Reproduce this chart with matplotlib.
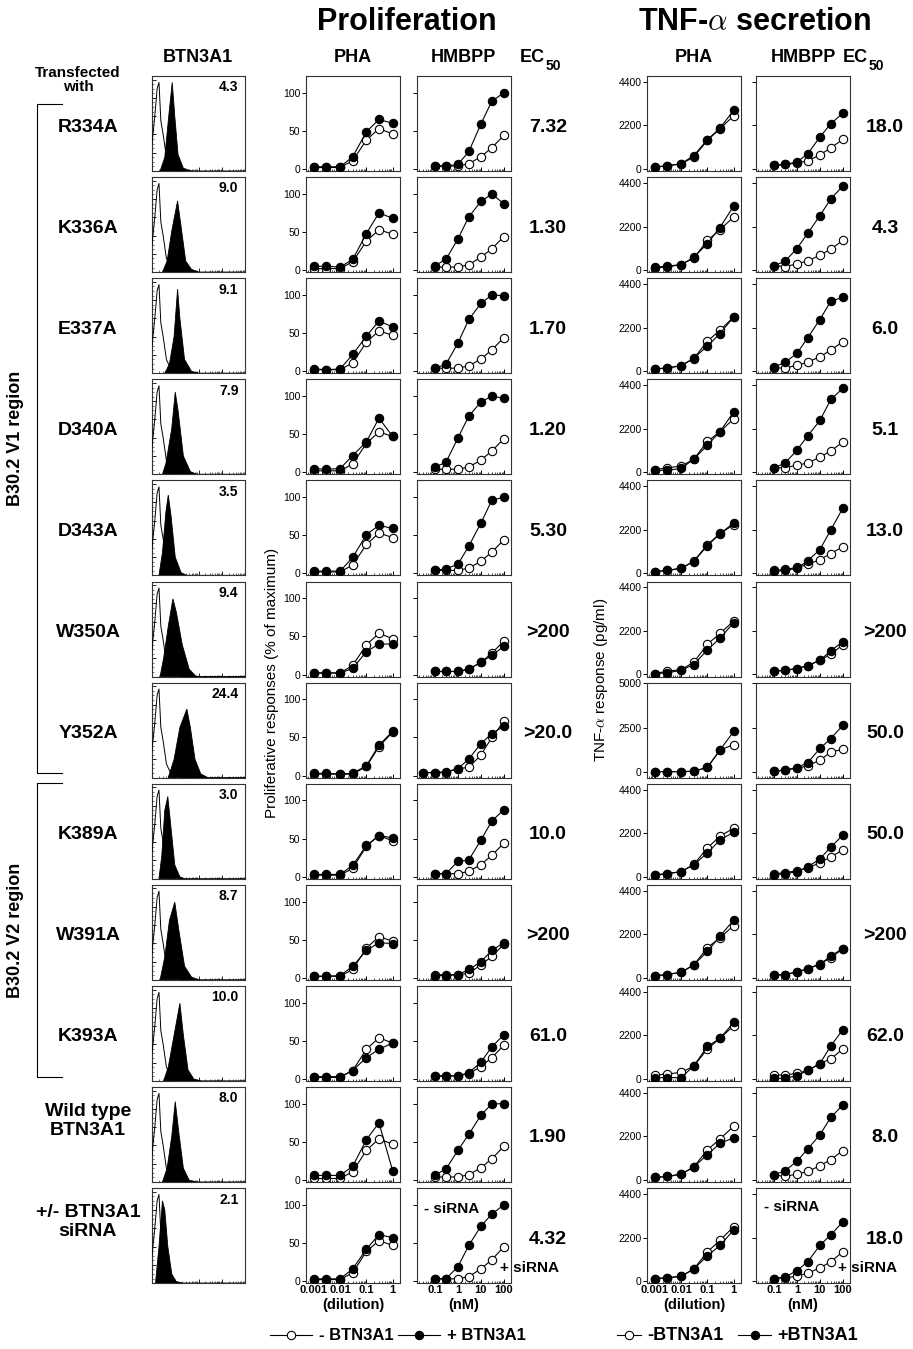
import numpy as np
import matplotlib
matplotlib.use("Agg")
import matplotlib.pyplot as plt
from matplotlib.ticker import LogLocator, NullFormatter, FixedLocator

plt.rcParams['font.family'] = ['Liberation Sans', 'DejaVu Sans']
plt.rcParams['mathtext.fontset'] = 'cm'

# ---------------- data ----------------
mutants = ["R334A", "K336A", "E337A", "D340A", "D343A", "W350A", "Y352A",
           "K389A", "W391A", "K393A", "Wild type\nBTN3A1", "+/- BTN3A1\nsiRNA"]
hist_mfi = ["4.3", "9.0", "9.1", "7.9", "3.5", "9.4", "24.4",
            "3.0", "8.7", "10.0", "8.0", "2.1"]
ec50_prolif = ["7.32", "1.30", "1.70", "1.20", "5.30", ">200", ">20.0",
               "10.0", ">200", "61.0", "1.90", "4.32"]
ec50_tnf = ["18.0", "4.3", "6.0", "5.1", "13.0", ">200", "50.0",
            "50.0", ">200", "62.0", "8.0", "18.0"]

pha_dose = [0.001, 0.003, 0.01, 0.03, 0.1, 0.3, 1]
hmbpp_dose = [0.1, 0.3, 1, 3, 10, 30, 100]
hmbpp_dose_long = [0.03, 0.1, 0.3, 1, 3, 10, 30, 100]   # Y352A proliferation

# proliferation (% of maximum), - BTN3A1 (open) / + BTN3A1 (filled)
prolif_pha_neg = [
    [2, 2, 2, 11, 38, 53, 46], [2, 2, 2, 11, 38, 53, 47], [2, 2, 2, 11, 38, 53, 47],
    [2, 2, 2, 11, 38, 53, 47], [2, 2, 2, 11, 38, 53, 47], [2, 2, 2, 12, 39, 54, 47],
    [2, 2, 2, 2, 12, 38, 57], [2, 2, 2, 11, 40, 54, 47], [2, 2, 2, 11, 39, 54, 48],
    [2, 2, 2, 11, 39, 54, 47], [2, 2, 2, 11, 39, 54, 47], [2, 2, 2, 11, 39, 53, 47]]
prolif_pha_pos = [
    [3, 3, 3, 16, 49, 65, 60], [5, 5, 4, 14, 48, 75, 68], [3, 2, 3, 22, 46, 66, 58],
    [5, 4, 5, 22, 40, 71, 47], [3, 3, 3, 21, 51, 63, 59], [2, 2, 2, 8, 30, 40, 40],
    [3, 3, 2, 3, 13, 40, 58], [3, 3, 3, 15, 41, 54, 51], [2, 2, 3, 15, 36, 46, 45],
    [3, 3, 3, 11, 28, 39, 47], [6, 6, 6, 18, 53, 75, 12], [3, 3, 3, 16, 42, 61, 57]]
prolif_hmbpp_neg = [
    [4, 4, 4, 7, 16, 28, 44], [4, 4, 4, 7, 17, 28, 44], [4, 4, 4, 7, 16, 28, 44],
    [4, 4, 4, 7, 16, 28, 44], [4, 4, 4, 7, 16, 28, 44], [4, 4, 4, 7, 16, 28, 44],
    [4, 4, 4, 9, 11, 27, 50, 71], [4, 4, 4, 7, 16, 28, 44], [4, 4, 4, 6, 17, 28, 44],
    [4, 4, 4, 7, 16, 28, 44], [4, 4, 4, 7, 16, 28, 44], [3, 3, 3, 6, 16, 28, 45]]
prolif_hmbpp_pos = [
    [4, 4, 6, 23, 59, 89, 100], [6, 14, 41, 70, 90, 100, 87], [4, 9, 37, 68, 89, 100, 99],
    [7, 13, 45, 74, 92, 100, 97], [4, 6, 12, 36, 66, 96, 100], [4, 4, 4, 7, 16, 25, 37],
    [4, 4, 5, 9, 22, 42, 55, 65], [4, 4, 20, 22, 48, 73, 88], [3, 3, 4, 11, 21, 36, 46],
    [4, 4, 4, 8, 22, 42, 58], [7, 14, 39, 60, 85, 100, 100], [3, 3, 19, 47, 72, 88, 100]]

# TNF-alpha (pg/ml)
tnf_pha_neg = [
    [100, 165, 260, 600, 1450, 2030, 2690], [115, 160, 280, 600, 1500, 2040, 2690],
    [115, 165, 280, 640, 1515, 2070, 2740], [130, 230, 310, 660, 1560, 2050, 2700],
    [90, 160, 260, 620, 1450, 2020, 2450], [50, 166, 250, 615, 1530, 2075, 2700],
    [37, 37, 37, 55, 276, 1250, 1560], [90, 160, 260, 620, 1450, 2050, 2450],
    [100, 165, 280, 640, 1525, 2020, 2640], [195, 250, 330, 640, 1510, 2050, 2690],
    [130, 180, 295, 655, 1525, 2070, 2720], [130, 165, 245, 605, 1480, 2060, 2750]]
tnf_pha_pos = [
    [100, 165, 264, 677, 1485, 2063, 2970], [150, 200, 280, 640, 1340, 2150, 3240],
    [115, 163, 277, 650, 1270, 1900, 2740], [100, 100, 195, 660, 1370, 2050, 3050],
    [80, 150, 250, 600, 1400, 2000, 2550], [50, 83, 216, 500, 1245, 1830, 2620],
    [37, 37, 37, 55, 276, 1250, 2300], [80, 150, 250, 600, 1200, 1850, 2250],
    [100, 165, 280, 655, 1330, 2100, 2920], [65, 65, 65, 655, 1640, 2050, 2850],
    [130, 180, 295, 655, 1280, 1850, 2130], [130, 165, 245, 605, 1280, 1800, 2580]]
tnf_hmbpp_neg = [
    [180, 230, 300, 410, 710, 1070, 1500], [230, 180, 310, 470, 750, 1060, 1500],
    [163, 163, 293, 456, 733, 1060, 1500], [230, 230, 360, 470, 765, 1075, 1530],
    [150, 200, 300, 450, 700, 1000, 1350], [166, 216, 300, 450, 715, 1030, 1500],
    [55, 130, 220, 370, 680, 1140, 1290], [150, 200, 300, 450, 700, 1000, 1350],
    [130, 165, 295, 460, 710, 1000, 1475], [195, 195, 280, 430, 770, 1015, 1510],
    [260, 180, 300, 430, 720, 1030, 1490], [130, 165, 245, 410, 660, 985, 1480]]
tnf_hmbpp_pos = [
    [180, 230, 350, 775, 1617, 2290, 2820], [230, 440, 1090, 1870, 2750, 3600, 4250],
    [212, 440, 900, 1700, 2610, 3540, 3730], [230, 455, 1120, 1850, 2620, 3680, 4250],
    [100, 150, 250, 650, 1200, 2200, 3300], [166, 216, 300, 450, 715, 1200, 1660],
    [55, 130, 260, 550, 1340, 1900, 2650], [100, 150, 250, 500, 900, 1500, 2100],
    [130, 165, 295, 460, 670, 1115, 1475], [30, 30, 165, 430, 770, 1670, 2490],
    [260, 460, 950, 1575, 2280, 3170, 3790], [130, 200, 530, 985, 1810, 2340, 3000]]
tnf_top = [4400] * 6 + [5000] + [4400] * 5

# flow histograms: outline vertices (log10 fluorescence, % of max count)
hist_open = [(0, 30), (0.12, 60), (0.22, 90), (0.3, 97), (0.38, 55), (0.48, 40),
             (0.62, 15), (0.8, 5), (1.0, 2), (1.3, 0)]
hist_filled = [
    [(0.35, 0), (0.55, 15), (0.72, 60), (0.87, 97), (0.98, 60), (1.12, 18), (1.35, 3), (1.7, 0)],
    [(0.45, 0), (0.65, 12), (0.85, 45), (1.1, 78), (1.25, 50), (1.45, 12), (1.7, 3), (2.0, 0)],
    [(0.55, 0), (0.75, 10), (0.95, 40), (1.1, 92), (1.2, 60), (1.4, 15), (1.7, 2), (2.0, 0)],
    [(0.45, 0), (0.6, 12), (0.85, 50), (1.0, 90), (1.12, 70), (1.35, 20), (1.65, 3), (1.9, 0)],
    [(0.3, 0), (0.45, 25), (0.6, 70), (0.7, 88), (0.82, 65), (1.0, 20), (1.25, 3), (1.5, 0)],
    [(0.35, 0), (0.5, 20), (0.7, 55), (0.9, 85), (1.05, 70), (1.3, 35), (1.6, 8), (1.9, 0)],
    [(0.7, 0), (0.95, 20), (1.2, 55), (1.5, 75), (1.65, 55), (1.85, 20), (2.1, 4), (2.4, 0)],
    [(0.3, 0), (0.42, 25), (0.55, 75), (0.68, 90), (0.8, 60), (0.98, 15), (1.2, 2), (1.4, 0)],
    [(0.35, 0), (0.55, 25), (0.75, 65), (0.98, 85), (1.15, 55), (1.4, 15), (1.7, 3), (2.0, 0)],
    [(0.5, 0), (0.7, 15), (0.95, 50), (1.2, 85), (1.35, 50), (1.55, 12), (1.8, 2), (2.1, 0)],
    [(0.45, 0), (0.65, 15), (0.85, 50), (1.0, 88), (1.15, 55), (1.35, 15), (1.6, 2), (1.9, 0)],
    [(0.15, 0), (0.3, 40), (0.45, 90), (0.55, 80), (0.68, 40), (0.85, 10), (1.05, 1), (1.3, 0)]]

# ---------------- layout ----------------
W, H = 913, 1349
fig = plt.figure(figsize=(W / 100, H / 100), dpi=100)

def px_axes(x, y, w, h):
    return fig.add_axes([x / W, 1 - (y + h) / H, w / W, h / H])

ROW0, PITCH, AH = 76, 101.1, 95
COL_HIST, COL_PP, COL_PH, COL_TP, COL_TH = 152, 306, 417, 647, 756
AW = 94
PHA_LIM = (0.0005, 1.9)
HMB_LIM = (0.0165, 205)

def style_dose_axis(ax, last, kind):
    ax.set_xscale('log')
    ax.set_xlim(*(PHA_LIM if kind == 'pha' else HMB_LIM))
    ax.xaxis.set_major_locator(LogLocator(base=10, numticks=10))
    ax.xaxis.set_minor_locator(LogLocator(base=10, subs=np.arange(2, 10), numticks=20))
    ax.xaxis.set_minor_formatter(NullFormatter())
    ax.tick_params(axis='x', which='major', direction='in', length=3, width=0.7)
    ax.tick_params(axis='x', which='minor', direction='in', length=1.5, width=0.5)
    ax.tick_params(axis='y', direction='out', length=3, width=0.7, labelsize=7.5, pad=1)
    if last:
        ticks = [0.001, 0.01, 0.1, 1] if kind == 'pha' else [0.1, 1, 10, 100]
        ax.xaxis.set_major_locator(FixedLocator(ticks))
        ax.set_xticklabels([f"{t:g}" for t in ticks], fontsize=8, fontweight='bold')
        ax.tick_params(axis='x', which='major', pad=1.5)
        ax.set_xlabel("(dilution)" if kind == 'pha' else "(nM)",
                      fontsize=10.5, fontweight='bold', labelpad=2)
    else:
        ax.set_xticklabels([])
    for s in ax.spines.values():
        s.set_linewidth(0.8)
        s.set_color('#333333')

def draw_pair(ax, dose_neg, neg, dose_pos, pos):
    ax.plot(dose_neg, neg, '-o', color='black', lw=0.8, ms=6,
            mfc='white', mec='black', mew=0.8, zorder=2)
    ax.plot(dose_pos, pos, '-o', color='black', lw=0.8, ms=6,
            mfc='black', mec='black', mew=0.8, zorder=3)

for i in range(len(mutants)):
    top = ROW0 + PITCH * i
    last = i == len(mutants) - 1

    # flow histogram
    ax = px_axes(COL_HIST, top, 93, AH)
    ox = [10 ** v[0] for v in hist_open] + [10 ** 4]
    oy = [v[1] for v in hist_open] + [0]
    fx = [10 ** v[0] for v in hist_filled[i]]
    fy = [v[1] for v in hist_filled[i]]
    ax.fill(fx, fy, color='black', lw=0.6, zorder=2)
    ax.plot(ox, oy, color='black', lw=0.7, zorder=3)
    ax.set_xscale('log')
    ax.set_xlim(1, 1e4)
    ax.set_ylim(0, 104)
    ax.xaxis.set_major_locator(LogLocator(base=10, numticks=10))
    ax.xaxis.set_minor_locator(LogLocator(base=10, subs=np.arange(2, 10), numticks=20))
    ax.xaxis.set_minor_formatter(NullFormatter())
    ax.set_xticklabels([])
    ax.set_yticks(np.arange(0, 101, 20))
    ax.set_yticks(np.arange(0, 101, 5), minor=True)
    ax.set_yticklabels([])
    ax.tick_params(which='major', direction='in', length=3, width=0.6)
    ax.tick_params(which='minor', direction='in', length=1.5, width=0.4)
    for s in ax.spines.values():
        s.set_linewidth(0.8)
        s.set_color('#333333')
    ax.text(0.93, 0.88, hist_mfi[i], transform=ax.transAxes, ha='right', va='center',
            fontsize=10, fontweight='bold')

    # proliferation
    ax = px_axes(COL_PP, top, AW, AH)
    draw_pair(ax, pha_dose, prolif_pha_neg[i], pha_dose, prolif_pha_pos[i])
    ax.set_ylim(-2.6, 122)
    ax.set_yticks([0, 50, 100])
    style_dose_axis(ax, last, 'pha')

    ax = px_axes(COL_PH, top, AW, AH)
    dn = hmbpp_dose_long if len(prolif_hmbpp_neg[i]) == 8 else hmbpp_dose
    dp = hmbpp_dose_long if len(prolif_hmbpp_pos[i]) == 8 else hmbpp_dose
    draw_pair(ax, dn, prolif_hmbpp_neg[i], dp, prolif_hmbpp_pos[i])
    ax.set_ylim(-2.6, 122)
    ax.set_yticks([0, 50, 100])
    ax.set_yticklabels([])
    style_dose_axis(ax, last, 'hmb')
    if last:
        ax.text(0.07, 0.78, "- siRNA", transform=ax.transAxes, fontsize=11,
                fontweight='bold', va='center')

    # TNF-alpha
    tt = tnf_top[i]
    ylo = -tt * 0.023 if tt == 4400 else -tt * 0.06
    yhi = tt * 1.068 if tt == 4400 else tt * 1.01
    ax = px_axes(COL_TP, top, AW, AH)
    draw_pair(ax, pha_dose, tnf_pha_neg[i], pha_dose, tnf_pha_pos[i])
    ax.set_ylim(ylo, yhi)
    ax.set_yticks([0, tt / 2, tt])
    ax.set_yticklabels(["0", f"{tt // 2}", f"{tt}"])
    style_dose_axis(ax, last, 'pha')

    ax = px_axes(COL_TH, top, AW, AH)
    draw_pair(ax, hmbpp_dose, tnf_hmbpp_neg[i], hmbpp_dose, tnf_hmbpp_pos[i])
    ax.set_ylim(ylo, yhi)
    ax.set_yticks([0, tt / 2, tt])
    ax.set_yticklabels([])
    style_dose_axis(ax, last, 'hmb')
    if last:
        ax.text(0.09, 0.8, "- siRNA", transform=ax.transAxes, fontsize=11,
                fontweight='bold', va='center')

# ---------------- overlay text ----------------
ov = fig.add_axes([0, 0, 1, 1])
ov.set_xlim(0, W)
ov.set_ylim(H, 0)
ov.axis('off')
ov.set_zorder(10)

bold = dict(fontweight='bold', ha='center', va='center')
ov.text(407, 22, "Proliferation", fontsize=22, **bold)
ov.text(755, 22, r"TNF-$\alpha$ secretion", fontsize=22, **bold)
ov.text(198, 57, "BTN3A1", fontsize=13, **bold)
ov.text(353, 57, "PHA", fontsize=13, **bold)
ov.text(463, 57, "HMBPP", fontsize=13, **bold)
ov.text(694, 57, "PHA", fontsize=13, **bold)
ov.text(803, 57, "HMBPP", fontsize=13, **bold)
for xe in (545, 868):
    ov.text(xe, 57, "EC", fontsize=13, fontweight='bold', ha='right', va='center')
    ov.text(xe + 1, 66, "50", fontsize=10, fontweight='bold', ha='left', va='center')
ov.text(78, 80, "Transfected\nwith", fontsize=11, linespacing=1.0, **bold)

for i in range(len(mutants)):
    top = ROW0 + PITCH * i
    yc = top + (34 if "\n" in mutants[i] else 51)
    ov.text(88, yc, mutants[i], fontsize=14, linespacing=1.1, **bold)
    ov.text(548, top + 51, ec50_prolif[i], fontsize=14, **bold)
    ov.text(885, top + 51, ec50_tnf[i], fontsize=14, **bold)

# brackets for the B30.2 regions
for y0, y1, yl, lab in [(104, 773, 438, "B30.2 V1 region"),
                        (783, 1077, 930, "B30.2 V2 region")]:
    ov.plot([62, 37, 37, 62], [y0, y0, y1, y1], color='black', lw=0.8)
    ov.text(16, yl, lab, rotation=90, fontsize=13, **bold)

ov.text(272, 683, "Proliferative responses (% of maximum)", rotation=90,
        fontsize=11, ha='center', va='center')
ov.text(601, 680, r"TNF-$\alpha$ response (pg/ml)", rotation=90,
        fontsize=11, ha='center', va='center')

ov.text(500, 1268, "+ siRNA", fontsize=11, fontweight='bold', va='center')
ov.text(838, 1268, "+ siRNA", fontsize=11, fontweight='bold', va='center')

# legends
legend_items = [(270, 312, "- BTN3A1", 319, 'white', 12),
                (398, 440, "+ BTN3A1", 447, 'black', 12),
                (617, 641, "-BTN3A1", 647, 'white', 13),
                (738, 771, "+BTN3A1", 777, 'black', 13)]
for x0, x1, txt, xt, face, fs in legend_items:
    ov.plot([x0, x1], [1335, 1335], color='black', lw=0.8)
    ov.plot([(x0 + x1) / 2], [1335], 'o', ms=6, mfc=face, mec='black', mew=0.8)
    ov.text(xt, 1335, txt, fontsize=fs, fontweight='bold', va='center')

fig.savefig("out.png", dpi=100)
